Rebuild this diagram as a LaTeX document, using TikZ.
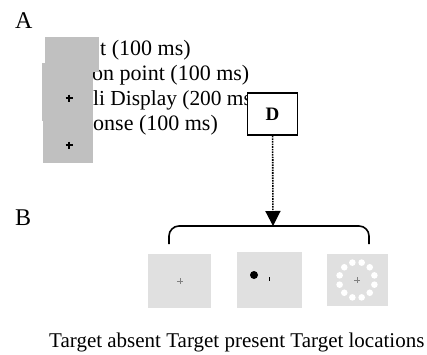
\documentclass[tikz,border=0pt]{standalone}
\usepackage{fontspec}
\setmainfont{Liberation Serif}
\usetikzlibrary{arrows.meta}
\definecolor{framegray}{HTML}{C0C0C0}
\definecolor{panelgray}{HTML}{E0E0E0}

\begin{document}
\begin{tikzpicture}[x=1pt,y=-1pt,
    step_text/.style={anchor=base west,inner sep=0pt,font=\fontsize{22}{25}\selectfont},
    part_label/.style={anchor=base west,inner sep=0pt,font=\fontsize{24}{28}\selectfont},
    frame_node/.style={rectangle,fill=framegray,inner sep=0pt},
    panel_node/.style={rectangle,fill=panelgray,inner sep=0pt}]

    \useasboundingbox[fill=white] (0,0) rectangle (427,354);

    % part A
    \node[part_label] (A) at (15,28) {A};
    \node[step_text] (s1) at (100,55) {t (100 ms)};
    \node[step_text] (s2) at (92,80) {on point (100 ms)};
    \node[step_text,font=\fontsize{21.4}{25}\selectfont] (s3) at (93,105) {li Display (200 ms};
    \node[step_text] (s4) at (93,130) {onse (100 ms)};

    \node[frame_node,minimum width=54,minimum height=35] (f1) at (72,54.5) {};
    \node[frame_node,minimum width=51,minimum height=58] (f2) at (67.5,92) {};
    \node[frame_node,minimum width=50,minimum height=42] (f3) at (68,142) {};
    \begin{scope}[every path/.style={line width=1.2pt}]
       \draw (65.5,98) -- (72.5,98) (69,94.5) -- (69,101.5);
       \draw (65.5,145) -- (72.5,145) (69,141.5) -- (69,148.5);
    \end{scope}

    \node[draw,fill=white,line width=1.5pt,minimum width=50,minimum height=42,
          font=\bfseries\fontsize{19}{19}\selectfont] (D) at (272.5,114) {D};

    % part B
    \node[part_label] (B) at (15,225) {B};
    \coordinate (brace_top) at (273,226);
    \draw[line width=1.6pt,rounded corners=10pt] (169,244) -- (169,226) -- (369,226) -- (369,244);
    \draw[densely dotted,line width=1.6pt,-{Triangle[width=15pt,length=15pt]}] (D) -- (brace_top);

    \node[panel_node,minimum width=63,minimum height=54] (absent) at (179.5,281) {};
    \node[panel_node,minimum width=65,minimum height=56] (present) at (269.5,280) {};
    \node[panel_node,minimum width=61,minimum height=52] (locations) at (357.5,280) {};

    \draw[gray] (177,281) -- (183,281) (180,278) -- (180,284);
    \fill (254,275) circle (4pt);
    \draw[line width=0.8pt] (269,277) -- (269,281);
    \foreach \a in {15,45,...,345}
       \fill[white] (357,280) ++(\a:18pt) circle (3.3pt);
    \draw[gray] (354,280) -- (360,280) (357,277) -- (357,283);

    \node[step_text,font=\fontsize{21}{24}\selectfont] (caption) at (49,347) {Target absent Target present Target locations};
\end{tikzpicture}
\end{document}
